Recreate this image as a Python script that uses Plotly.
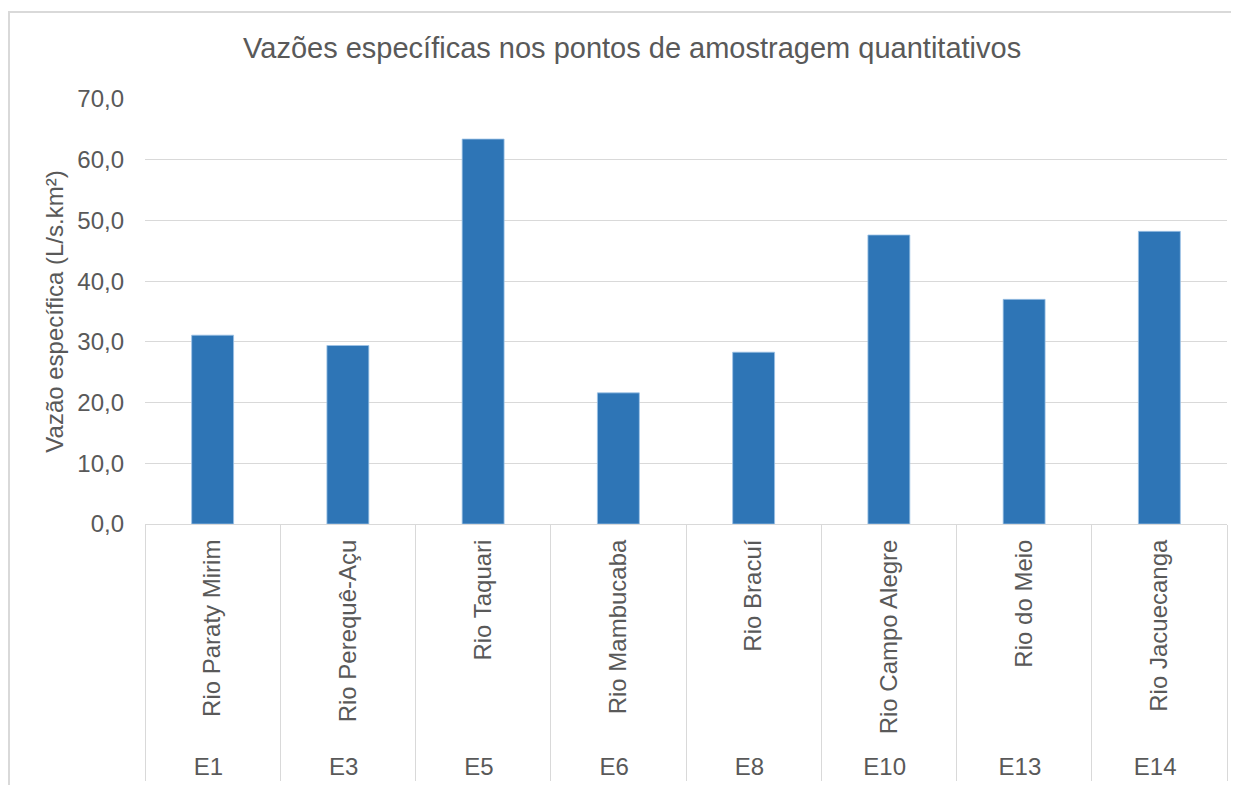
import plotly.graph_objects as go

stations = ["E1", "E3", "E5", "E6", "E8", "E10", "E13", "E14"]
rivers = ["Rio Paraty Mirim", "Rio Perequê-Açu", "Rio Taquari", "Rio Mambucaba",
          "Rio Bracuí", "Rio Campo Alegre", "Rio do Meio", "Rio Jacuecanga"]
vazao = [31.1, 29.4, 63.4, 21.6, 28.3, 47.6, 37.0, 48.2]
y_ticks = [0, 10, 20, 30, 40, 50, 60, 70]
y_labels = ["0,0", "10,0", "20,0", "30,0", "40,0", "50,0", "60,0", "70,0"]

FONT = "Liberation Sans, Arial, sans-serif"
TXT = "#595959"
GRID = "#D9D9D9"

fig = go.Figure(go.Bar(
    x=[stations, rivers], y=vazao,
    marker=dict(color="#2E75B6", line=dict(color="#9DC3E6", width=0.8)),
    width=0.31,
))

fig.update_layout(
    width=1231, height=777,
    margin=dict(l=137, r=12, t=91, b=261, autoexpand=False),
    paper_bgcolor="white", plot_bgcolor="white",
    showlegend=False,
    font=dict(family=FONT, color=TXT),
    title=dict(text="Vazões específicas nos pontos de amostragem quantitativos",
               x=0.507, xanchor="center", xref="container", y=0.9485, yanchor="middle",
               font=dict(size=29, color=TXT, family=FONT)),
)
fig.update_yaxes(
    range=[0, 70], tickvals=y_ticks, ticktext=y_labels,
    showgrid=True, gridcolor=GRID, gridwidth=1, zeroline=False,
    showline=False, ticks="", ticklabelstandoff=20, automargin=False,
    tickfont=dict(size=24, color=TXT, family=FONT),
    title=dict(text="Vazão específica (L/s.km²)", standoff=6,
               font=dict(size=24, color=TXT, family=FONT)),
)
fig.update_xaxes(
    type="multicategory", tickangle=-90, automargin=False,
    showline=True, linecolor=GRID, linewidth=1,
    showdividers=True, dividercolor=GRID, dividerwidth=1,
    tickfont=dict(size=24, color=TXT, family=FONT),
    ticks="", ticklabelstandoff=5,
)
# outer chart border
fig.add_shape(type="rect", xref="paper", yref="paper",
              x0=-0.1257, x1=1.2, y0=-0.7, y1=1.2047,
              line=dict(color="#D9D9D9", width=2), layer="below")

fig.write_html("out.html")
